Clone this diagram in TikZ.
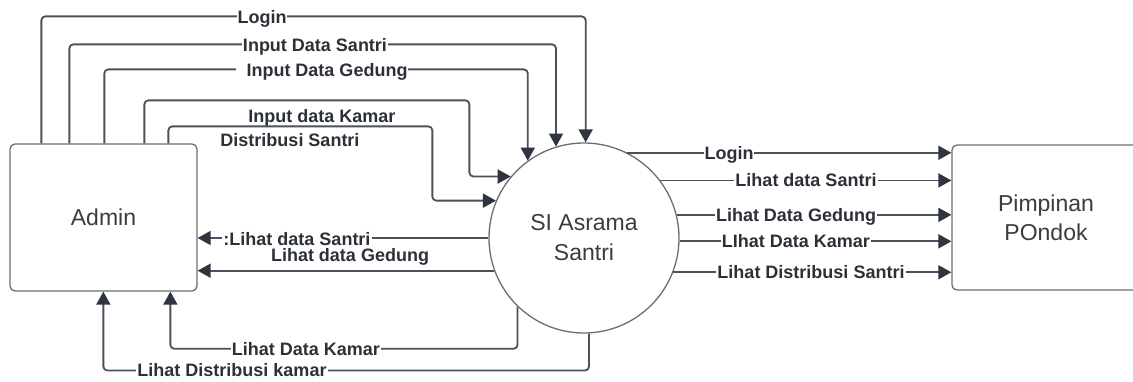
\documentclass[tikz,border=0pt]{standalone}
\usepackage{fontspec}
\setmainfont{Liberation Sans}
\usetikzlibrary{arrows.meta,calc}
\definecolor{linec}{HTML}{4B505A}
\definecolor{tipc}{HTML}{2E3440}
\definecolor{txtc}{HTML}{2C3139}
\definecolor{boxc}{HTML}{6E6E6E}
\definecolor{ntxt}{HTML}{3C3C3C}
\begin{document}
\begin{tikzpicture}[x=1pt,y=-1pt,
  entity/.style={draw=boxc, line width=1.3pt, rounded corners=5pt, fill=white,
    font=\fontsize{23}{29}\selectfont, text=ntxt, align=center, inner sep=0pt},
  proc/.style={circle, draw=boxc, line width=1.3pt, minimum size=190pt, fill=white,
    inner sep=0pt, align=center, font=\fontsize{23}{30}\selectfont, text=ntxt},
  flow/.style={draw=linec, line width=1.8pt, rounded corners=4pt,
    -{Triangle[length=13pt,width=14pt,color=tipc]}},
  lbl/.style={anchor=base, fill=white, inner xsep=1pt, inner ysep=0pt,
    font=\fontsize{18}{20}\selectfont\bfseries, text=txtc},
  lbln/.style={anchor=base, inner sep=0pt, font=\fontsize{18}{20}\selectfont\bfseries, text=txtc}]
\useasboundingbox (0,0) rectangle (1133,381);
\fill[white] (0,0) rectangle (1133,381);

% nodes
\node[entity, minimum width=187pt, minimum height=147pt] (admin) at (103.5,217.5) {Admin};
\node[proc] (si) at (584,238) {SI Asrama\\Santri};
\node[entity, minimum width=188pt, minimum height=145pt] (pim) at (1046,217.5) {Pimpinan\\POndok};

% Admin -> SI
\draw[flow] ([xshift=32pt]admin.north west) -- ++(0,-127) -| (si.89.4);
\draw[flow] ([xshift=60pt]admin.north west) -- ++(0,-99) -| (si.107.8);
\draw[flow] ([xshift=95pt]admin.north west) -- ++(0,-74) -| (si.126.1);
\draw[flow] ([xshift=135pt]admin.north west) -- ++(0,-43) -- ++(325,0) |- (si.140.05);
\draw[flow] ([xshift=159pt]admin.north west) -- ++(0,-17) -- ++(264,0) |- (si.157.7);

% SI -> Admin
\draw[flow] (si.180.6) -- (si.180.6 -| admin.east);
\draw[flow] (si.200.3) -- (si.200.3 -| admin.east);
\draw[flow] (si.226.8) -- ++(0,42) -| ([xshift=161pt]admin.south west);
\draw[flow] (si.273.6) -- ++(0,37) -| ([xshift=94pt]admin.south west);

% SI -> Pimpinan
\draw[flow] (si.63.5) -- (si.63.5 -| pim.west);
\draw[flow] (si.37.6) -- (si.37.6 -| pim.west);
\draw[flow] (si.14.0) -- (si.14.0 -| pim.west);
\draw[flow] (si.358.2) -- (si.358.2 -| pim.west);
\draw[flow] (si.339.0) -- (si.339.0 -| pim.west);

% labels (base anchor: baseline = line y + 6.5)
\node[lbl] (t1) at (262,23.5) {Login};
\node[lbl] (t2) at (315,51.5) {Input Data Santri};
\node[lbl] (t3) at (322,76.5) {\hspace{10pt}Input Data Gedung};
\node[lbln] (t4) at (322,122.5) {Input data Kamar};
\node[lbln] (t5) at (290,146.5) {Distribusi Santri};
\node[lbl] (b1) at (297,245.5) {:Lihat data Santri};
\node[lbln] (b2) at (350,261) {Lihat data Gedung};
\node[lbl] (b3) at (306,355.5) {Lihat Data Kamar};
\node[lbl] (b4) at (232,376.5) {Lihat Distribusi kamar};
\node[lbl] (r1) at (729,159.5) {Login};
\node[lbl] (r2) at (806,186.5) {Lihat data Santri};
\node[lbl] (r3) at (796,221.5) {Lihat Data Gedung};
\node[lbl] (r4) at (796,247.5) {LIhat Data Kamar};
\node[lbl] (r5) at (811,278.5) {Lihat Distribusi Santri};
\end{tikzpicture}
\end{document}
